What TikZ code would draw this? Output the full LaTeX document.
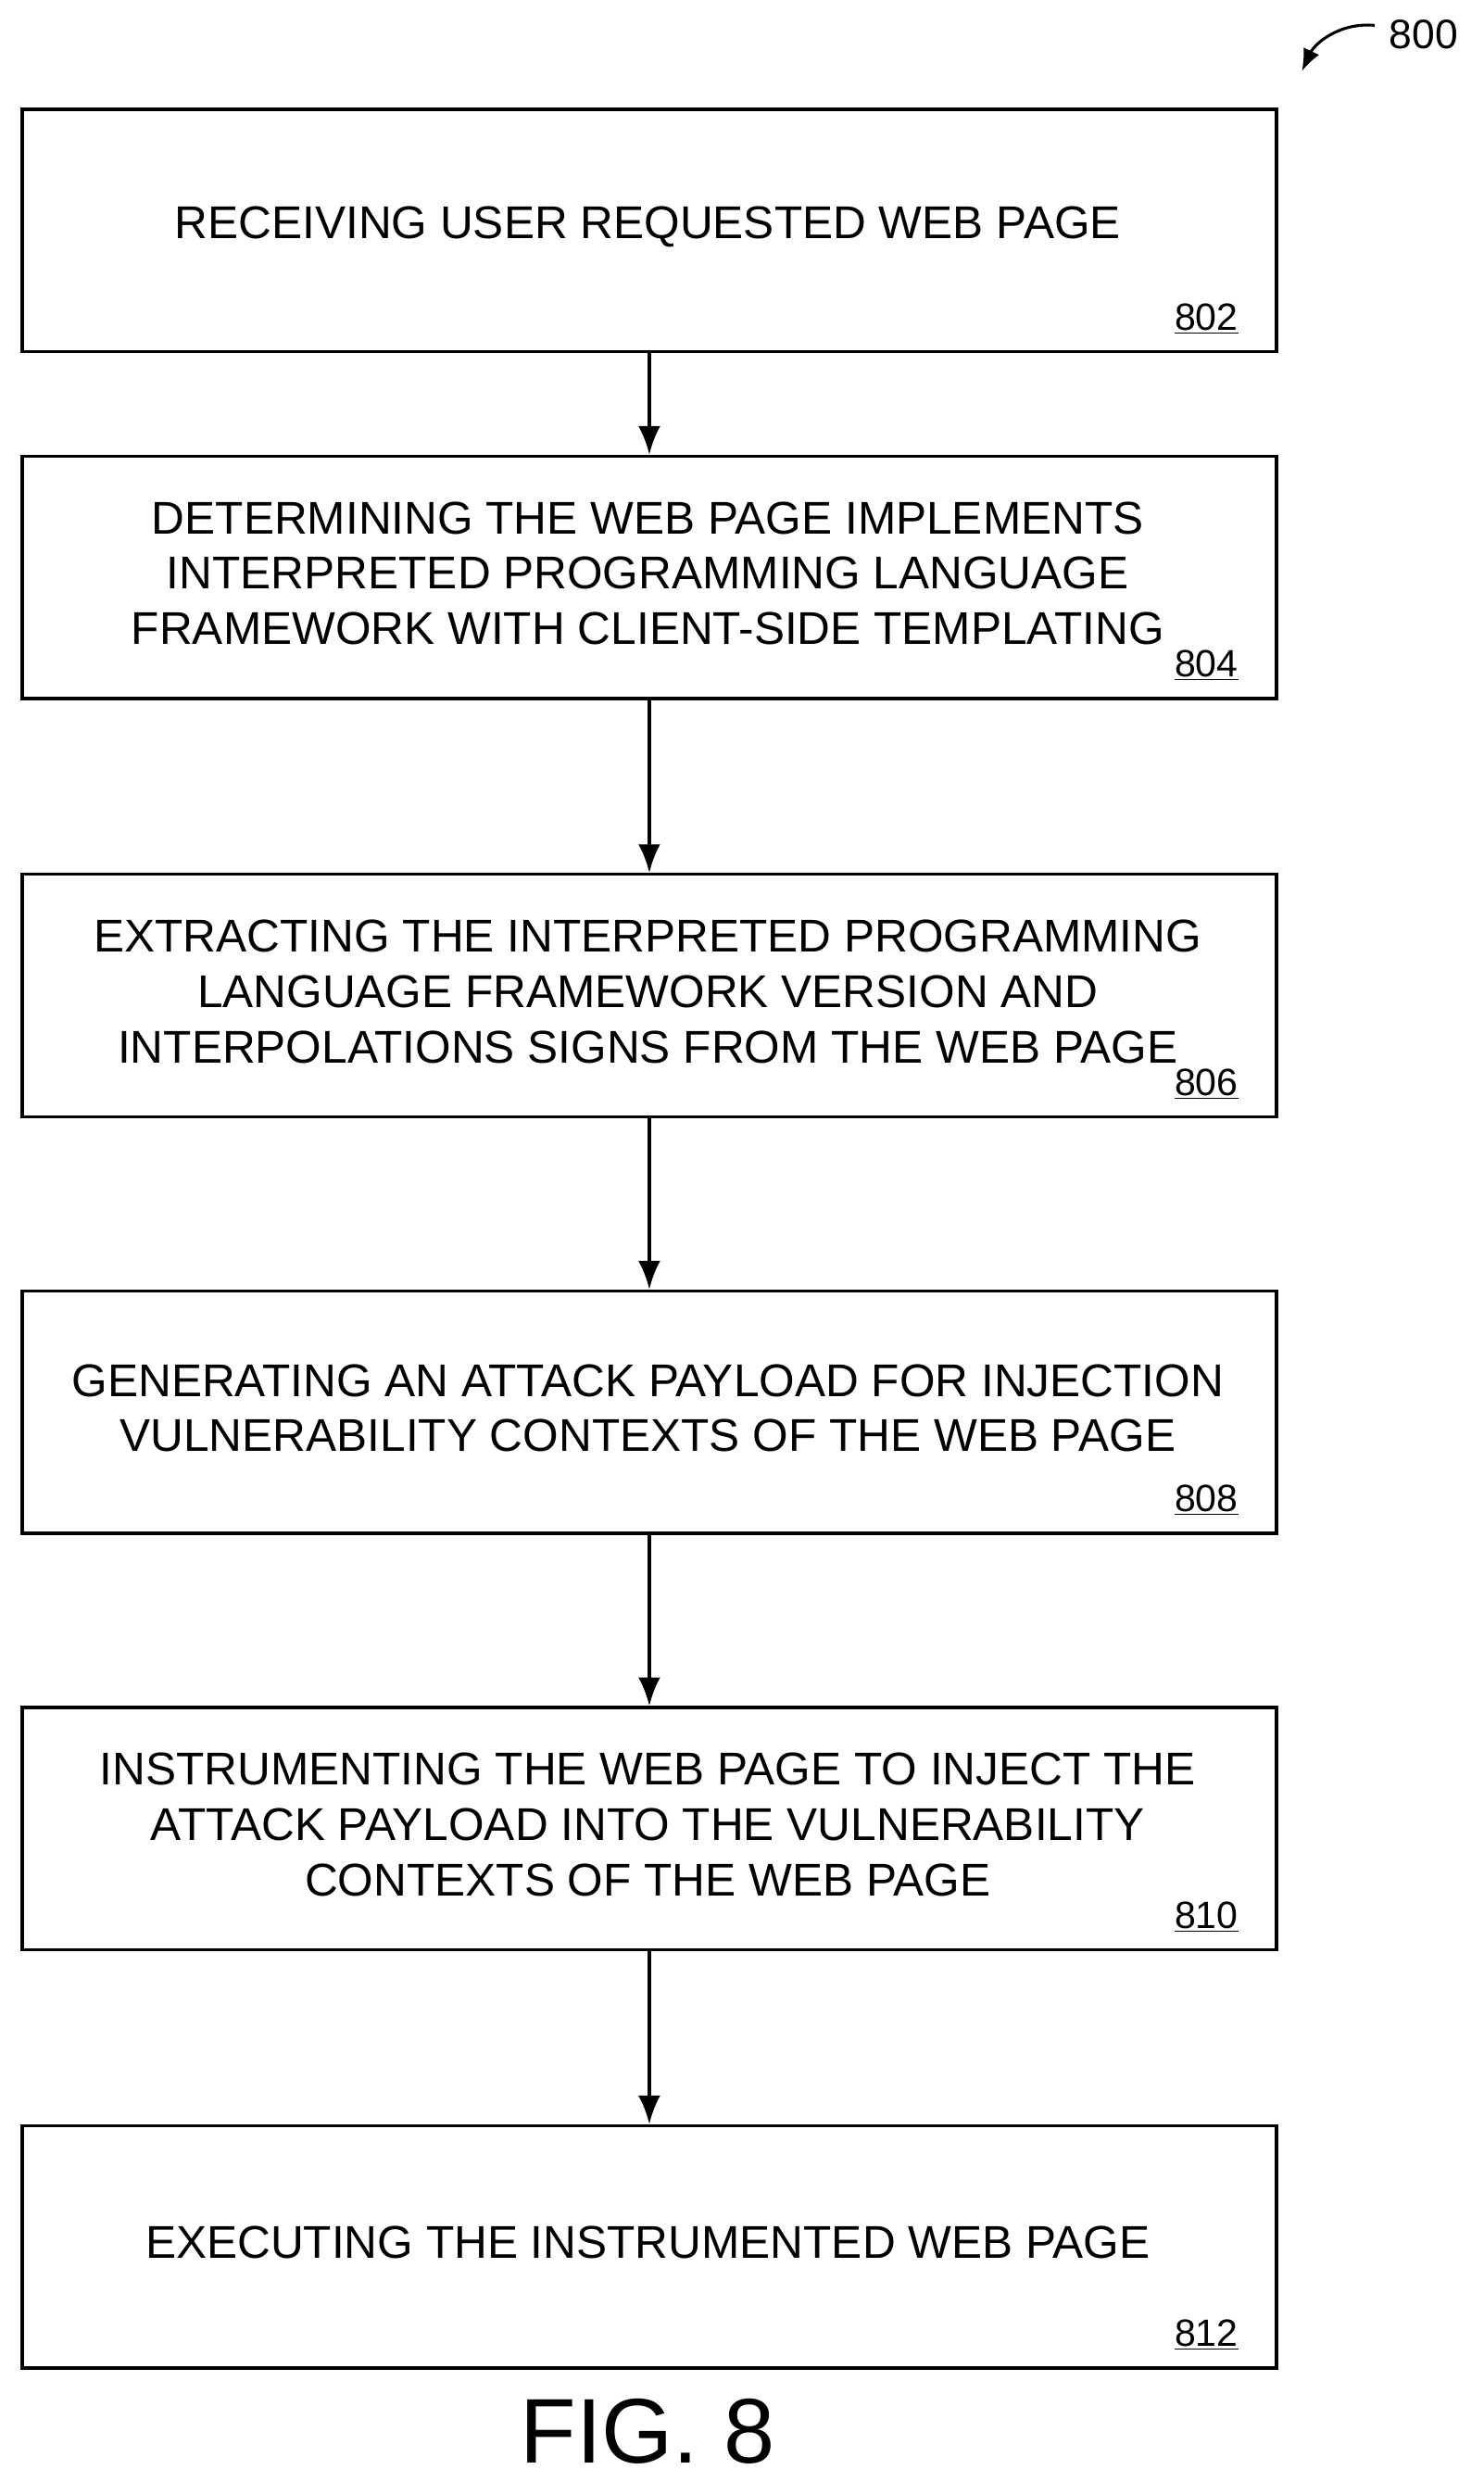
\documentclass[tikz,border=0pt]{standalone}
\usepackage{fontspec}
\setmainfont{Liberation Sans}
\usetikzlibrary{arrows.meta}
\begin{document}
\begin{tikzpicture}[x=1pt,y=-1pt,
  box/.style={draw,line width=2pt,minimum width=792pt,minimum height=153pt,anchor=north west,inner sep=0pt},
  txt/.style={align=center,font=\fontsize{29}{35}\selectfont},
  num/.style={anchor=south east,font=\fontsize{24}{28}\selectfont,inner sep=0pt},
  arr/.style={-{Latex[length=18pt,width=14pt]},line width=2pt}]
\useasboundingbox (0,0) rectangle (937,1567);
\foreach \n/\y in {802/68,804/287,806/551,808/814,810/1077,812/1341}{
  \node[box] (b\n) at (13,\y) {};
  \node[num] (l\n) at ([shift={(-25pt,12pt)}]b\n.south east) {\underline{\n}};
}
\node[txt] (t802) at (409,143) {RECEIVING USER REQUESTED WEB PAGE};
\node[txt] (t804) at (409,362) {DETERMINING THE WEB PAGE IMPLEMENTS\\INTERPRETED PROGRAMMING LANGUAGE\\FRAMEWORK WITH CLIENT-SIDE TEMPLATING};
\node[txt] (t806) at (409,626) {EXTRACTING THE INTERPRETED PROGRAMMING\\LANGUAGE FRAMEWORK VERSION AND\\INTERPOLATIONS SIGNS FROM THE WEB PAGE};
\node[txt] (t808) at (409,889) {GENERATING AN ATTACK PAYLOAD FOR INJECTION\\VULNERABILITY CONTEXTS OF THE WEB PAGE};
\node[txt] (t810) at (409,1152) {INSTRUMENTING THE WEB PAGE TO INJECT THE\\ATTACK PAYLOAD INTO THE VULNERABILITY\\CONTEXTS OF THE WEB PAGE};
\node[txt] (t812) at (409,1416) {EXECUTING THE INSTRUMENTED WEB PAGE};
\draw[arr] (b802.south) -- (b804.north);
\draw[arr] (b804.south) -- (b806.north);
\draw[arr] (b806.south) -- (b808.north);
\draw[arr] (b808.south) -- (b810.north);
\draw[arr] (b810.south) -- (b812.north);
\node[font=\fontsize{58}{62}\selectfont] (fig) at (409,1535) {FIG. 8};
\node[font=\fontsize{26}{30}\selectfont,anchor=west,inner sep=0pt] (n800) at (877,22) {800};
\coordinate (c800) at (822,45);
\draw[-{Latex[length=14pt,width=11pt]},line width=1.8pt] (868,16) .. controls (845,14) and (830,28) .. (c800);
\end{tikzpicture}
\end{document}
